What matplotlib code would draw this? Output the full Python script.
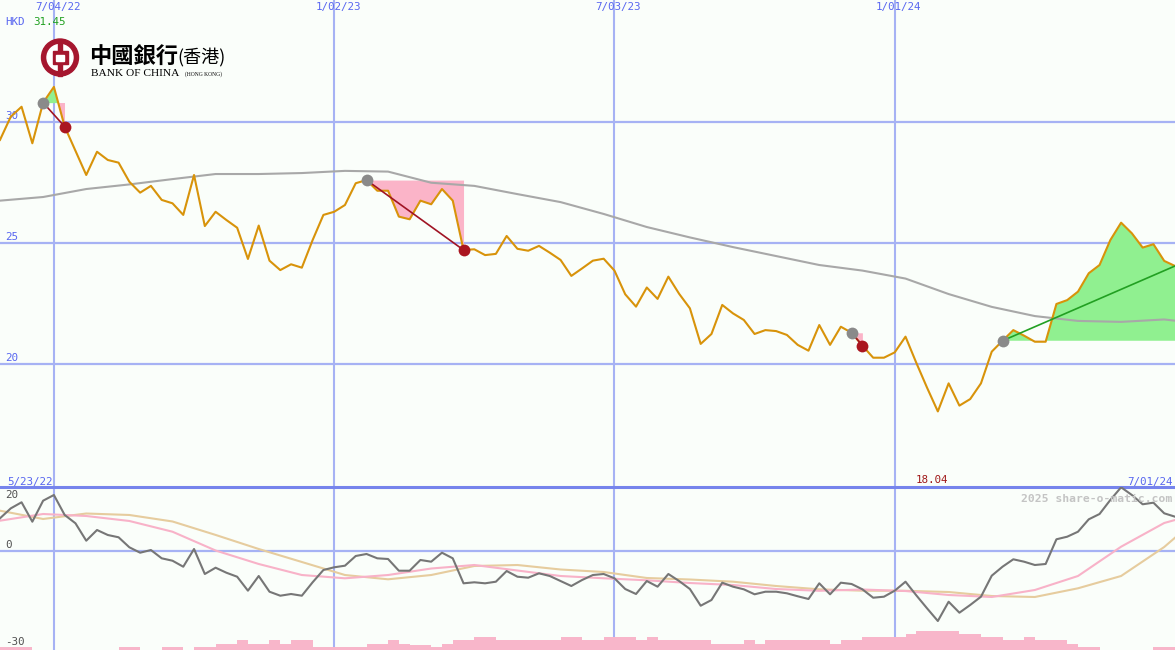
import numpy as np
import pandas as pd
import matplotlib
matplotlib.use('Agg')
import matplotlib.pyplot as plt
import matplotlib.dates as mdates
from matplotlib.patches import Circle, Rectangle

# weekly closes, 5/30/22 .. 7/01/24
weeks = pd.date_range('2022-05-30', periods=110, freq='7D')
price = [29.26, 30.22, 30.63, 29.12, 30.80, 31.45, 29.81, 28.81, 27.81, 28.77,
         28.43, 28.32, 27.53, 27.08, 27.36, 26.78, 26.64, 26.16, 27.81, 25.70,
         26.29, 25.95, 25.63, 24.34, 25.72, 24.27, 23.88, 24.12, 23.98, 25.12,
         26.16, 26.29, 26.57, 27.47, 27.60, 27.16, 27.16, 26.09, 25.98, 26.75,
         26.60, 27.23, 26.75, 24.71, 24.74, 24.50, 24.55, 25.29, 24.76, 24.68,
         24.88, 24.60, 24.30, 23.64, 23.95, 24.27, 24.35, 23.86, 22.88, 22.37,
         23.16, 22.69, 23.61, 22.90, 22.30, 20.83, 21.24, 22.44, 22.09, 21.82,
         21.24, 21.40, 21.36, 21.20, 20.79, 20.55, 21.61, 20.79, 21.54, 21.29,
         20.76, 20.26, 20.26, 20.48, 21.13, 20.05, 19.02, 18.04, 19.20, 18.28,
         18.55, 19.20, 20.51, 20.96, 21.40, 21.17, 20.92, 20.92, 22.48, 22.64,
         22.99, 23.75, 24.09, 25.12, 25.84, 25.40, 24.81, 24.95, 24.26, 24.05]

# long moving average, read every 4 weeks
ma_idx = list(range(0, 110, 4)) + [109]
ma_long = [26.75, 26.90, 27.23, 27.42, 27.64, 27.85, 27.85, 27.89, 27.98, 27.95,
           27.49, 27.36, 27.02, 26.69, 26.20, 25.66, 25.23, 24.83, 24.46, 24.09,
           23.86, 23.53, 22.89, 22.36, 21.98, 21.78, 21.74, 21.84, 21.79]

# lower panel oscillator
osc = [9.97, 13.0, 14.85, 8.93, 15.34, 17.07, 10.98, 8.45, 3.14, 6.40,
       4.88, 4.18, 1.13, -0.52, 0.30, -2.23, -2.96, -4.79, 0.61, -7.01,
       -5.09, -6.62, -7.84, -12.10, -7.62, -12.41, -13.63, -13.11, -13.63, -9.54,
       -5.79, -4.97, -4.48, -1.52, -0.91, -2.23, -2.44, -6.01, -6.01, -2.74,
       -3.26, -0.52, -2.23, -9.85, -9.54, -9.85, -9.36, -6.10, -7.84, -8.14,
       -6.80, -7.62, -9.15, -10.67, -8.84, -7.32, -7.01, -8.32, -11.59, -13.11,
       -9.15, -10.88, -7.01, -9.15, -11.59, -16.68, -14.94, -9.66, -10.88, -11.68,
       -13.20, -12.41, -12.41, -12.90, -13.80, -14.63, -9.85, -13.20, -9.66, -10.06,
       -11.68, -14.24, -13.93, -12.10, -9.36, -13.51, -17.48, -21.34, -15.46, -18.81,
       -16.46, -13.93, -7.53, -4.79, -2.53, -3.26, -4.27, -3.96, 3.57, 4.36,
       5.88, 9.66, 11.28, 15.55, 19.42, 17.07, 14.24, 14.73, 11.49, 10.46]
osc_pink = [9.24, 11.28, 10.67, 9.15, 5.88, 0.15, -3.96, -7.32, -8.32, -7.32,
            -5.34, -4.27, -5.95, -7.62, -8.32, -8.93, -9.76, -10.37, -11.59, -12.13,
            -11.74, -12.20, -13.41, -14.02, -11.89, -7.62, 1.31, 8.54, 9.45]
osc_tan = [12.29, 9.76, 11.43, 10.98, 9.0, 4.9, 0.61, -3.35, -7.32, -8.63,
           -7.32, -4.57, -4.27, -5.64, -6.40, -8.23, -8.69, -9.36, -10.67, -11.68,
           -12.10, -12.13, -12.50, -13.72, -14.02, -11.37, -7.62, 1.22, 4.05]

volume = ([1] * 3 + [0] * 8 + [1, 1, 0, 0, 1, 1, 0, 1, 1, 2, 2, 3, 2, 2, 3, 2, 3, 3]
          + [1] * 5 + [2, 2, 3, 2, 1.5, 1.5, 1, 2, 3, 3, 4, 4] + [3] * 6
          + [4, 4, 3, 3, 4, 4, 4, 3, 4] + [3] * 5 + [2, 2, 2, 3, 2] + [3] * 6
          + [2, 3, 3, 4, 4, 4, 4, 5, 6, 6, 6, 6, 5, 5, 4, 4, 3, 3, 4, 3, 3, 3, 2, 1, 1]
          + [0] * 5 + [1, 1, 1])

# signals: start week -> end week
sig_start = [4, 34, 79, 93]
sig_end = [6, 43, 80, 109]

grid_dates = ['2022-07-04', '2023-01-02', '2023-07-03', '2024-01-01']
grid_labels = ['7/04/22', '1/02/23', '7/03/23', '1/01/24']
price_levels = [30, 25, 20]
osc_levels = [20, 0, -30]

W, H = 1175, 650
bg = '#fafefa'
grid_c = '#a6b2f4'
blue_txt = '#5866f0'
green_fill = '#90f090'
pink_fill = '#fbb4c8'

fig = plt.figure(figsize=(W / 100, H / 100), dpi=100)
fig.patch.set_facecolor(bg)
ax = fig.add_axes([0, 163 / H, 1, 487 / H])
ax2 = fig.add_axes([0, 0, 1, 163 / H])
for a in (ax, ax2):
    a.set_facecolor(bg)
    a.set_xlim(weeks[0], weeks[-1])
    a.set_xticks([])
    a.set_yticks([])
    for s in a.spines.values():
        s.set_visible(False)
    for d in grid_dates:
        a.axvline(pd.Timestamp(d), color=grid_c, lw=1.5, zorder=0)

ax.set_ylim(14.917, 35.041)
ax2.set_ylim(-30.18, 19.51)

for lv in price_levels:
    ax.axhline(lv, color=grid_c, lw=1.6, zorder=0)
    ax.annotate(str(lv), xy=(0, lv), xycoords=('axes fraction', 'data'),
                xytext=(5, 1), textcoords='offset pixels', va='bottom',
                fontsize=7.8, color=blue_txt, family='DejaVu Sans Mono')
ax2.axhline(0, color=grid_c, lw=1.6, zorder=0)
ax2.spines['top'].set_visible(True)
ax2.spines['top'].set_color('#7684ec')
ax2.spines['top'].set_linewidth(2.2)

# price + long MA
ax.plot(weeks[ma_idx], ma_long, color='#a8a8a8', lw=1.5, zorder=2)

wx = mdates.date2num(weeks)
p = np.array(price)
for s, e in zip(sig_start, sig_end):
    xs = wx[s:e + 1]
    ps = p[s:e + 1]
    lvl = ps[0]
    ax.fill_between(xs, lvl, ps, where=ps >= lvl, interpolate=True,
                    color=green_fill, lw=0, zorder=1)
    ax.fill_between(xs, lvl, ps, where=ps <= lvl, interpolate=True,
                    color=pink_fill, lw=0, zorder=1)
    down = ps[-1] < lvl
    ax.plot([xs[0], xs[-1]], [lvl, ps[-1]], color='#a01424' if down else '#22a022',
            lw=1.2, zorder=4)
    ax.plot(xs[0], lvl, 'o', color='#8a8a8a', ms=8.5, mew=0, zorder=5)
    if down:
        ax.plot(xs[-1], ps[-1], 'o', color='#aa1620', ms=8.5, mew=0, zorder=5)

ax.plot(weeks, price, color='#d8930a', lw=1.5, zorder=3)

# lower panel
ax2.plot(weeks[ma_idx], osc_tan, color='#e6cc9e', lw=1.5, zorder=2)
ax2.plot(weeks[ma_idx], osc_pink, color='#f8b2c8', lw=1.5, zorder=2)
ax2.plot(weeks, osc, color='#767676', lw=1.5, zorder=3)
axv = ax2.twinx()
axv.set_ylim(0, 163 / 3.2)
axv.set_xlim(weeks[0], weeks[-1])
axv.axis('off')
axv.bar(weeks, volume, width=7, align='edge', color='#f8b6ca', lw=0)

for lv, off, va in zip(osc_levels, [-5, 1, 2], ['top', 'bottom', 'bottom']):
    ax2.annotate(str(lv), xy=(0, lv), xycoords=('axes fraction', 'data'),
                 xytext=(5, off), textcoords='offset pixels', va=va,
                 fontsize=7.8, color='#505050', family='DejaVu Sans Mono',
                 annotation_clip=False)

# date labels
for d, lbl in zip(grid_dates, grid_labels):
    ax.annotate(lbl, xy=(pd.Timestamp(d), 1), xycoords=('data', 'axes fraction'),
                xytext=(4, -2), textcoords='offset pixels', ha='center', va='top',
                fontsize=7.8, color=blue_txt, family='DejaVu Sans Mono')

imax = int(np.argmax(p))
imin = int(np.argmin(p))
fig.text(5 / W, 1 - 25 / H, 'HKD', fontsize=7.8, color=blue_txt, family='DejaVu Sans Mono')
fig.text(33 / W, 1 - 25 / H, f'{p[imax]:.2f}', fontsize=7.8, color='#20a020',
         family='DejaVu Sans Mono')
ax.annotate(f'{p[imin]:.2f}', xy=(weeks[imin], 0), xycoords=('data', 'axes fraction'),
            xytext=(-6, 2), textcoords='offset pixels', ha='center', va='bottom',
            fontsize=7.8, color='#a01818', family='DejaVu Sans Mono')
fig.text(7 / W, 1 - 485 / H, '5/23/22', fontsize=7.8, color=blue_txt,
         family='DejaVu Sans Mono')
fig.text(1173 / W, 1 - 485 / H, '7/01/24', fontsize=7.8, color=blue_txt,
         family='DejaVu Sans Mono', ha='right')
fig.text(1172 / W, 1 - 502 / H, '2025 share-o-matic.com', fontsize=8.2, color='#c4c4c4',
         family='DejaVu Sans Mono', weight='bold', ha='right')

# logo
red = '#a5162e'
lax = fig.add_axes([(60 - 20) / W, 1 - (57.5 + 20) / H, 40 / W, 40 / H])
lax.set_xlim(-20, 20)
lax.set_ylim(-20, 20)
lax.axis('off')
lax.add_patch(Circle((0, 0), 18.5, color=red))
lax.add_patch(Circle((0, 0), 13, color='white'))
lax.add_patch(Rectangle((-2, -18), 4, 36, color=red))
lax.add_patch(Rectangle((-7.5, -6.5), 15, 13, color=red))
lax.add_patch(Rectangle((-4, -3), 8, 6, color='white'))

fig.text(89 / W, 1 - 57 / H, '中國銀行', fontsize=16, weight='bold', va='center',
         family=['Noto Sans CJK TC', 'DejaVu Sans'])
fig.text(177 / W, 1 - 57 / H, '(香港)', fontsize=13, va='center',
         family=['Noto Sans CJK TC', 'DejaVu Sans'])
fig.text(91 / W, 1 - 74 / H, 'BANK OF CHINA', fontsize=8.2, va='center',
         family='Liberation Serif')
fig.text(185 / W, 1 - 74 / H, '(HONG KONG)', fontsize=4.0, va='center',
         family='Liberation Serif')

fig.savefig('out.png', dpi=100, facecolor=bg)
